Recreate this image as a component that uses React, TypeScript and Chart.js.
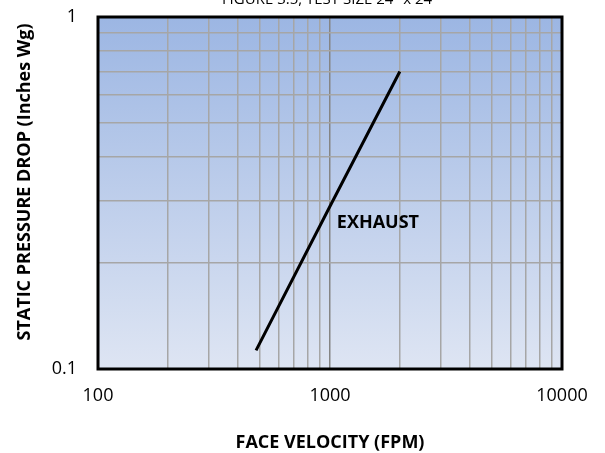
import React, { useEffect, useRef } from "react";
import { Chart, registerables } from "chart.js";

Chart.register(...registerables);

const velocity = [480, 1000, 2000];
const pressureDrop = [0.113, 0.29, 0.7];
const xGridValues = [100, 200, 300, 400, 500, 600, 700, 800, 900, 1000, 2000, 3000, 4000, 5000, 6000, 7000, 8000, 9000, 10000];
const yGridValues = [0.1, 0.2, 0.3, 0.4, 0.5, 0.6, 0.7, 0.8, 0.9, 1];
const xTickLabels = [100, 1000, 10000];
const yTickLabels = [0.1, 1];
const seriesLabel = "EXHAUST";
const seriesLabelAt = { x: 1070, y: 0.26 };
const chartTitle = 'FIGURE 3.5, TEST SIZE 24" x 24"';
const xTitle = "FACE VELOCITY (FPM)";
const yTitle = "STATIC PRESSURE DROP (Inches Wg)";

const FONT = "'Open Sans', 'DejaVu Sans', sans-serif";

const isLabeled = (v: number, list: number[]) =>
  list.some((l) => Math.abs(Math.log10(v) - Math.log10(l)) < 1e-6);

export default function App() {
  const ref = useRef<HTMLCanvasElement | null>(null);

  useEffect(() => {
    document.body.style.margin = "0";
    const canvas = ref.current;
    if (!canvas) return;

    const decorPlugin = {
      id: "decor",
      beforeDraw(chart: any) {
        const { ctx, chartArea } = chart;
        const { left, top, right, bottom } = chartArea;
        const g = ctx.createLinearGradient(0, top, 0, bottom);
        g.addColorStop(0, "rgb(156,182,227)");
        g.addColorStop(1, "rgb(222,229,243)");
        ctx.save();
        ctx.fillStyle = g;
        ctx.fillRect(left, top, right - left, bottom - top);
        ctx.restore();
      },
      afterDraw(chart: any) {
        const { ctx, chartArea, scales } = chart;
        const { left, top, right, bottom } = chartArea;
        ctx.save();
        ctx.strokeStyle = "#000";
        ctx.lineWidth = 3;
        ctx.strokeRect(left, top, right - left, bottom - top);

        ctx.fillStyle = "#000";
        ctx.font = `bold 18px ${FONT}`;
        ctx.textAlign = "left";
        ctx.textBaseline = "middle";
        ctx.fillText(
          seriesLabel,
          scales.x.getPixelForValue(seriesLabelAt.x),
          scales.y.getPixelForValue(seriesLabelAt.y)
        );

        ctx.save();
        ctx.translate(25, 182);
        ctx.rotate(-Math.PI / 2);
        ctx.textAlign = "center";
        ctx.textBaseline = "middle";
        ctx.font = `bold 18px ${FONT}`;
        ctx.fillText(yTitle, 0, 0);
        ctx.restore();

        ctx.font = `15px ${FONT}`;
        ctx.textAlign = "center";
        ctx.textBaseline = "alphabetic";
        ctx.fillText(chartTitle, (left + right) / 2, 4);
        ctx.restore();
      },
    };

    const chart = new Chart(canvas, {
      type: "line",
      data: {
        datasets: [
          {
            label: seriesLabel,
            data: velocity.map((v, i) => ({ x: v, y: pressureDrop[i] })),
            borderColor: "#000",
            borderWidth: 3,
            pointRadius: 0,
            fill: false,
            tension: 0,
          },
        ],
      },
      options: {
        animation: false,
        responsive: false,
        layout: { padding: { top: 17, right: 43, left: 0, bottom: 0 } },
        plugins: {
          legend: { display: false },
          tooltip: { enabled: false },
        },
        scales: {
          x: {
            type: "logarithmic",
            min: 100,
            max: 10000,
            afterBuildTicks: (s: any) => {
              s.ticks = xGridValues.map((value) => ({ value }));
            },
            afterFit: (s: any) => {
              s.height = 84;
              s.paddingLeft = 0;
              s.paddingRight = 0;
            },
            border: { display: false },
            grid: {
              drawTicks: false,
              color: (c: any) =>
                c.tick && Math.abs(c.tick.value - 1000) < 1e-6 ? "#858585" : "#a6a6a6",
              lineWidth: 1.5,
            },
            ticks: {
              autoSkip: false,
              maxRotation: 0,
              padding: 16,
              color: "#000",
              font: { family: FONT, size: 18 },
              callback: (v: any) => (isLabeled(Number(v), xTickLabels) ? String(Number(v)) : ""),
            },
            title: {
              display: true,
              text: xTitle,
              color: "#000",
              font: { family: FONT, size: 18, weight: "bold", lineHeight: 1.1 },
              padding: { top: 0, bottom: 0 },
            },
          },
          y: {
            type: "logarithmic",
            min: 0.1,
            max: 1,
            afterBuildTicks: (s: any) => {
              s.ticks = yGridValues.map((value) => ({ value }));
            },
            afterFit: (s: any) => {
              s.width = 98;
              s.paddingTop = 0;
              s.paddingBottom = 0;
            },
            border: { display: false },
            grid: {
              drawTicks: false,
              color: "#a6a6a6",
              lineWidth: 1.5,
            },
            ticks: {
              autoSkip: false,
              padding: 21,
              color: "#000",
              font: { family: FONT, size: 18 },
              callback: (v: any) => (isLabeled(Number(v), yTickLabels) ? String(Number(v)) : ""),
            },
          },
        },
      },
      plugins: [decorPlugin],
    });

    return () => chart.destroy();
  }, []);

  return (
    <div style={{ position: "fixed", left: 0, top: 0, width: 605, height: 453 }}>
      <canvas ref={ref} width={605} height={453} />
    </div>
  );
}
